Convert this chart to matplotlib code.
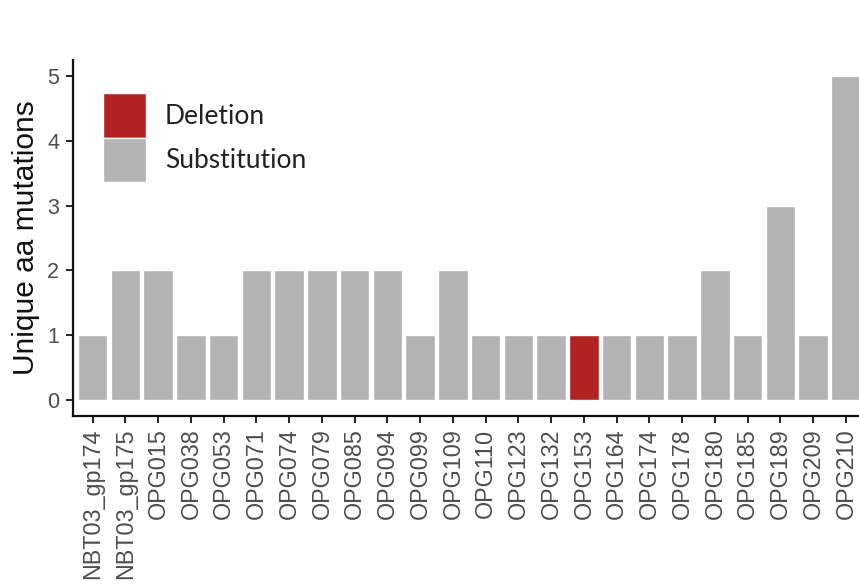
import matplotlib
matplotlib.use("Agg")
import matplotlib.pyplot as plt
from matplotlib.patches import Patch
import numpy as np

# genes and number of unique amino-acid mutations
genes = ["NBT03_gp174", "NBT03_gp175", "OPG015", "OPG038", "OPG053", "OPG071",
         "OPG074", "OPG079", "OPG085", "OPG094", "OPG099", "OPG109", "OPG110",
         "OPG123", "OPG132", "OPG153", "OPG164", "OPG174", "OPG178", "OPG180",
         "OPG185", "OPG189", "OPG209", "OPG210"]
counts = [1, 2, 2, 1, 1, 2, 2, 2, 2, 2, 1, 2, 1, 1, 1, 1, 1, 1, 1, 2, 1, 3, 1, 5]
mut_type = ["Substitution"] * 15 + ["Deletion"] + ["Substitution"] * 8

type_names = ["Deletion", "Substitution"]
type_colors = {"Deletion": "#B22222", "Substitution": "#B3B3B3"}

plt.rcParams["font.family"] = ["Liberation Sans", "DejaVu Sans"]

fig = plt.figure(figsize=(8.59, 5.87), dpi=100)
ax = fig.add_axes([0.085, 0.2913, 0.915, 0.6065])

x = np.arange(len(genes))
ax.bar(x, counts, width=0.9, color=[type_colors[t] for t in mut_type],
       edgecolor="white", linewidth=1.0)

ax.set_xlim(-0.6, len(genes) - 0.6)
ax.set_ylim(-0.25, 5.25)
ax.set_xticks(x)
ax.set_xticklabels(genes, rotation=90)
ax.set_yticks(range(6))
ax.tick_params(axis="both", length=5, width=1.4, color="#222222",
               labelcolor="#4D4D4D")
ax.tick_params(axis="x", labelsize=16.8, pad=4)
ax.tick_params(axis="y", labelsize=15.5, pad=5)

for side in ["top", "right"]:
    ax.spines[side].set_visible(False)
for side in ["left", "bottom"]:
    ax.spines[side].set_linewidth(1.6)
    ax.spines[side].set_color("#111111")

ax.set_ylabel("Unique aa mutations", fontsize=21.5, color="#111111", labelpad=5)

handles = [Patch(facecolor=type_colors[t], edgecolor="white", linewidth=1.0)
           for t in type_names]
leg = ax.legend(handles, type_names, loc="upper left",
                bbox_to_anchor=(0.038, 0.907), frameon=False,
                borderpad=0, borderaxespad=0, labelspacing=0,
                handlelength=1.63, handleheight=2.22, handletextpad=0.72,
                prop={"family": "Lato", "size": 19})
for t in leg.get_texts():
    t.set_color("#222222")

fig.savefig("out.png", dpi=100)
